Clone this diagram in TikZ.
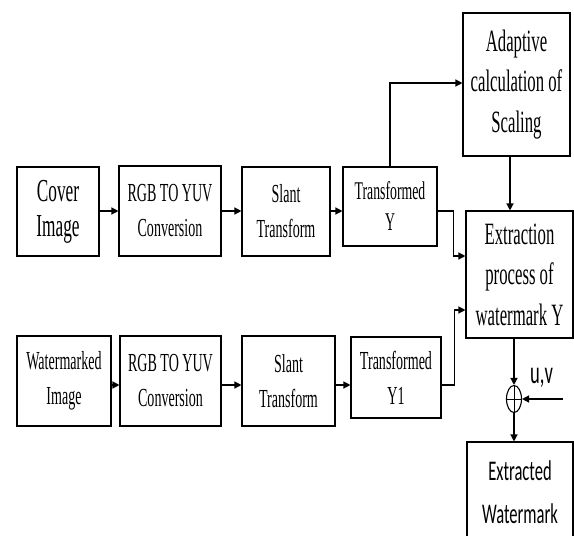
\documentclass[tikz,border=0pt]{standalone}
\usepackage{fontspec}
\setmainfont{Liberation Serif}[FakeStretch=0.54]
\newfontfamily\calfont{Carlito}[FakeStretch=0.58]
\usetikzlibrary{arrows.meta,shapes.geometric}
\tikzset{
  blk/.style={draw, line width=1.1pt, align=center, inner sep=0pt},
  arr/.style={line width=1.3pt, -{Triangle[length=7pt,width=7pt]}},
  fbig/.style={font=\fontsize{32}{35}\selectfont},
  fhuge/.style={font=\fontsize{31}{40.5}\selectfont},
  fmed/.style={font=\fontsize{26}{35}\selectfont},
  fty/.style={font=\fontsize{25.5}{31}\selectfont},
  fty1/.style={font=\fontsize{26}{35}\selectfont},
  fsans/.style={font=\calfont\fontsize{28.5}{43}\selectfont},
  fuv/.style={font=\calfont\fontsize{32}{32}\selectfont},
}
\begin{document}
\begin{tikzpicture}[x=1pt,y=-1pt]
\useasboundingbox (0,0) rectangle (574,536);
\coordinate (r1) at (0,211);
\coordinate (r2) at (0,385);
% row 1
\node[blk,fbig,minimum width=82pt,minimum height=89pt] (cover) at (58,211.5) {Cover\\Image};
\node[blk,fmed,minimum width=102pt,minimum height=90pt] (rgb1) at (170,211) {RGB TO YUV\\Conversion};
\node[blk,fmed,minimum width=88pt,minimum height=89pt] (slant1) at (286,211.5) {Slant\\Transform};
\node[blk,fty,minimum width=94pt,minimum height=79pt] (ty) at (390,206.5) {Transformed\\Y};
\node[blk,fhuge,minimum width=107pt,minimum height=143pt] (adapt) at (516.5,84.5) {Adaptive\\calculation of\\Scaling};
\node[blk,fhuge,minimum width=107pt,minimum height=127pt] (extr) at (519.5,274.5) {Extraction\\process of\\watermark Y};
% row 2
\node[blk,fmed,minimum width=94pt,minimum height=90pt] (wm) at (64,381) {Watermarked\\Image};
\node[blk,fmed,minimum width=101pt,minimum height=90pt] (rgb2) at (170.5,381) {RGB TO YUV\\Conversion};
\node[blk,fmed,minimum width=93pt,minimum height=90pt] (slant2) at (288.5,381) {Slant\\Transform};
\node[blk,fty1,minimum width=90pt,minimum height=81pt] (ty1) at (396,377.5) {Transformed\\Y1};
% sum and output
\node[ellipse,draw,line width=1.1pt,minimum width=15pt,minimum height=27pt,inner sep=0pt,
  path picture={\draw[line width=1pt] (path picture bounding box.north) -- (path picture bounding box.south)
    (path picture bounding box.west) -- (path picture bounding box.east);}] (sum) at (514,399) {};
\node[fuv,inner sep=0pt,anchor=base] (uv) at (541.5,383) {u,v};
\coordinate (uvin) at (563,399);
\node[blk,fsans,minimum width=106pt,minimum height=100pt] (extracted) at (520,492) {Extracted\\Watermark};
% connectors row 1
\draw[arr] (cover.east |- r1) -- (rgb1.west |- r1);
\draw[arr] (rgb1.east |- r1) -- (slant1.west |- r1);
\draw[arr] (slant1.east |- r1) -- (ty.west |- r1);
\draw[arr] (ty.east |- r1) -- ++(16,0) |- ([yshift=18.5pt]extr.west);
\draw[arr] (ty.north) |- ([yshift=1.5pt]adapt.west);
\draw[arr] ([xshift=-6.5pt]adapt.south) -- ([xshift=-6.5pt]adapt.south |- extr.north);
% connectors row 2
\draw[arr] (wm.east |- r2) -- (rgb2.west |- r2);
\draw[arr] (rgb2.east |- r2) -- (slant2.west |- r2);
\draw[arr] (slant2.east |- r2) -- (ty1.west |- r2);
\draw[arr] (ty1.east |- r2) -- ++(13,0) |- ([yshift=-35.5pt]extr.west);
% output
\draw[arr] (extr.south -| sum.north) -- (sum.north);
\draw[arr] (uvin) -- (sum.east);
\draw[arr] (sum.south) -- (sum.south |- extracted.north);
\end{tikzpicture}
\end{document}
